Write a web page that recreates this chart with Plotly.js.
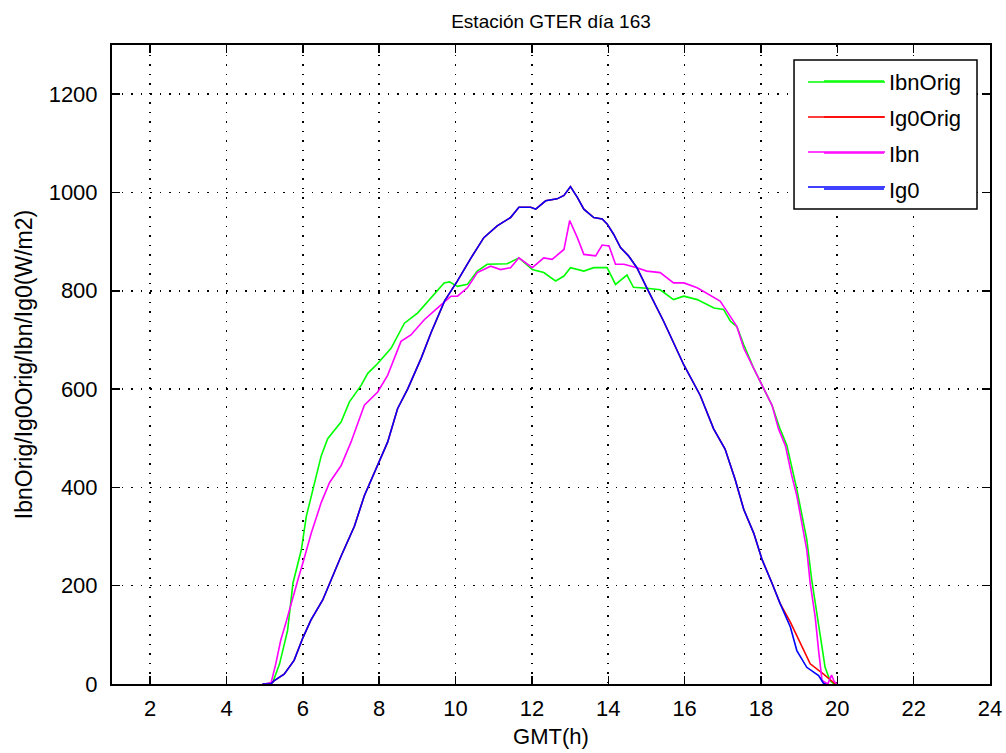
<!DOCTYPE html>
<html>
<head>
<meta charset="utf-8">
<script src="https://cdn.plot.ly/plotly-3.0.1.min.js"></script>
<style>html,body{margin:0;padding:0;background:#fff;}#chart{width:1006px;height:753px;}</style>
</head>
<body>
<div id="chart"></div>
<script>
// ---- data (hour GMT, W/m2) ----
var ibnOrigX = [5.0,5.21,5.39,5.47,5.60,5.74,5.96,6.09,6.31,6.48,6.65,7.0,7.22,7.53,7.70,7.96,8.31,8.66,9.01,9.36,9.70,9.84,10.05,10.31,10.57,10.83,11.35,11.66,12.01,12.31,12.62,12.84,13.01,13.36,13.62,13.97,14.19,14.49,14.66,15.01,15.36,15.71,15.98,16.33,16.77,17.02,17.20,17.37,17.55,17.81,18.03,18.29,18.50,18.68,18.94,19.07,19.20,19.33,19.46,19.60,19.68,19.81,19.90,20.0];
var ibnOrigY = [0,3,41,68,109,205,273,341,410,464,499,533,574,608,632,652,683,734,755,785,816,818,809,813,840,854,855,867,843,837,820,830,847,840,847,847,813,832,807,805,802,782,789,782,765,762,738,727,690,642,608,567,519,485,396,342,294,212,150,75,34,7,1,0];

var ig0OrigX = [4.94,5.16,5.25,5.51,5.77,6.0,6.21,6.52,7.0,7.35,7.61,7.96,8.22,8.48,8.75,9.10,9.36,9.71,10.05,10.39,10.74,11.09,11.44,11.66,11.97,12.10,12.36,12.66,12.84,13.01,13.19,13.36,13.62,13.84,13.97,14.14,14.32,14.53,14.75,15.01,15.45,15.98,16.41,16.76,17.06,17.32,17.55,17.81,18.03,18.29,18.50,18.77,19.03,19.29,19.64,19.90,19.95];
var ig0OrigY = [0,0,7,20,48,94,130,171,260,321,383,444,492,560,601,663,715,779,820,865,908,932,949,970,970,966,983,987,994,1012,990,966,949,946,936,915,888,871,847,806,738,649,587,519,478,417,355,307,253,205,164,126,82,41,20,3,0];

var ibnX = [5.0,5.17,5.29,5.42,5.55,5.69,5.87,6.0,6.22,6.48,6.70,7.0,7.26,7.61,7.96,8.22,8.57,8.83,9.18,9.53,9.88,10.05,10.31,10.57,10.92,11.18,11.44,11.66,12.01,12.31,12.53,12.84,12.99,13.19,13.36,13.67,13.84,14.02,14.19,14.41,14.75,15.01,15.36,15.71,15.98,16.33,16.77,16.93,17.11,17.37,17.55,17.81,18.03,18.29,18.46,18.64,18.81,18.94,19.07,19.20,19.29,19.42,19.51,19.60,19.75,19.85,19.92,20.0];
var ibnY = [0,3,41,89,123,164,212,246,307,369,410,444,492,567,594,628,697,710,741,765,789,789,806,837,850,843,847,867,847,867,864,884,943,908,874,871,893,891,854,854,847,840,837,816,816,806,785,779,758,727,683,642,608,567,519,485,423,383,328,273,205,137,68,7,0,18,5,0];

var ig0X = [4.94,5.16,5.25,5.51,5.77,6.0,6.21,6.52,7.0,7.35,7.61,7.96,8.22,8.48,8.75,9.10,9.36,9.71,10.05,10.39,10.74,11.09,11.44,11.66,11.97,12.10,12.36,12.66,12.84,13.01,13.19,13.36,13.62,13.84,13.97,14.14,14.32,14.53,14.75,15.01,15.45,15.98,16.41,16.76,17.06,17.32,17.55,17.81,18.03,18.29,18.50,18.77,18.94,19.20,19.51,19.64,19.70];
var ig0Y = [0,0,7,20,48,94,130,171,260,321,383,444,492,560,601,663,715,779,820,865,908,932,949,970,970,966,983,987,994,1012,990,966,949,946,936,915,888,871,847,806,738,649,587,519,478,417,355,307,253,205,164,116,68,34,17,1,0];

var seriesNames = ['IbnOrig','Ig0Orig','Ibn','Ig0'];
var seriesColors = ['#00ff00','#ff0000','#ff00ff','#0000ff'];
var xTickVals = [2,4,6,8,10,12,14,16,18,20,22,24];
var yTickVals = [0,200,400,600,800,1000,1200];
var titleText = 'Estación GTER día 163';
var xTitle = 'GMT(h)';
var yTitle = 'IbnOrig/Ig0Orig/Ibn/Ig0(W/m2)';

var xs = [ibnOrigX, ig0OrigX, ibnX, ig0X];
var ys = [ibnOrigY, ig0OrigY, ibnY, ig0Y];
var FONT = 'Liberation Sans, Arial, sans-serif';

var traces = seriesNames.map(function(n, i){
  return {x: xs[i], y: ys[i], type:'scatter', mode:'lines', name:n,
    legendgroup:n, line:{color:seriesColors[i], width:1.6}};
});

// legend frame and long legend keys (MATLAB style), in paper coordinates
var legBox = {x0:0.7768, x1:0.9852, y0:0.7433, y1:0.9765};
var keyX = [0.7927, 0.8804];
var keyY = [0.9421, 0.8873, 0.8326, 0.7778];
var shapes = [{type:'rect', xref:'paper', yref:'paper', x0:legBox.x0, x1:legBox.x1, y0:legBox.y0, y1:legBox.y1,
  line:{color:'#000', width:1.5}, fillcolor:'#ffffff', layer:'above'}];
keyY.forEach(function(yy, i){
  shapes.push({type:'line', xref:'paper', yref:'paper', x0:keyX[0], x1:keyX[1], y0:yy, y1:yy,
    line:{color:seriesColors[i], width:1.6}, layer:'above'});
});

var gridDash = '1.6px,7.9px';
var layout = {
  width:1006, height:753,
  paper_bgcolor:'#ffffff', plot_bgcolor:'#ffffff',
  margin:{l:112, r:16, t:45, b:69},
  font:{family:FONT, color:'#000', size:22},
  title:{text:titleText, font:{family:FONT, size:19, color:'#000'}, x:0.5, xref:'paper', y:1-21/753, yref:'container', yanchor:'middle'},
  xaxis:{range:[1,24], tickvals:xTickVals, ticks:'inside', ticklen:8, tickwidth:1.5, tickcolor:'#000',
    showline:true, linecolor:'#000', linewidth:2, mirror:'allticks', showgrid:true, gridcolor:'#000', gridwidth:1.6, griddash:gridDash,
    zeroline:false, tickfont:{family:FONT, size:22}, ticklabelstandoff:4,
    title:{text:xTitle, font:{family:FONT, size:22}, standoff:8}},
  yaxis:{range:[0,1300], tickvals:yTickVals, ticks:'inside', ticklen:8, tickwidth:1.5, tickcolor:'#000',
    showline:true, linecolor:'#000', linewidth:2, mirror:'allticks', showgrid:true, gridcolor:'#000', gridwidth:1.6, griddash:gridDash,
    zeroline:false, tickfont:{family:FONT, size:22}, ticklabelstandoff:8,
    title:{text:yTitle, font:{family:FONT, size:23}, standoff:10}},
  shapes: shapes,
  showlegend:true,
  legend:{x:0.8052, y:0.9761, xanchor:'left', yanchor:'top', bgcolor:'rgba(0,0,0,0)', borderwidth:0,
    font:{family:FONT, size:22, color:'#000'}, tracegroupgap:4.4, itemwidth:60, traceorder:'grouped'}
};

Plotly.newPlot('chart', traces, layout, {staticPlot:true, displayModeBar:false});
</script>
</body>
</html>
